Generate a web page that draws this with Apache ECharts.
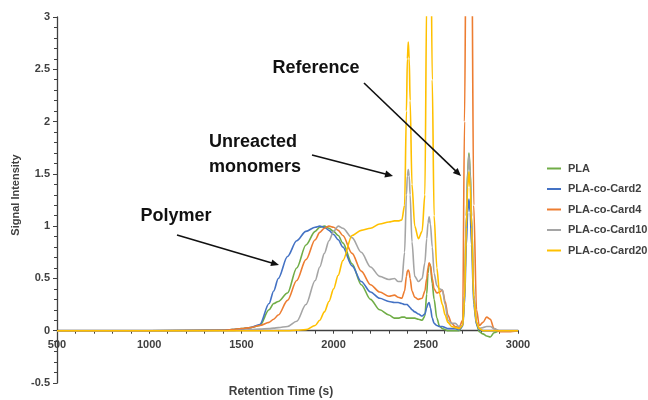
<!DOCTYPE html>
<html>
<head>
<meta charset="utf-8">
<script src="https://cdn.jsdelivr.net/npm/echarts@6/dist/echarts.min.js"></script>
<style>html,body{margin:0;padding:0;background:#fff}#c{width:648px;height:400px}</style>
</head>
<body>
<div id="c"></div>
<script>
// Retention time (s)
const retentionTime = [500,1000,1400,1450,1500,1550,1600,1650,1675,1700,1750,1800,1850,1900,1925,1950,1975,2000,2025,2050,2100,2150,2200,2250,2300,2330,2350,2370,2385,2395,2400,2405,2410,2415,2425,2440,2460,2480,2495,2505,2512,2518,2525,2535,2545,2560,2575,2590,2605,2620,2640,2660,2680,2700,2710,2720,2727,2734,2741,2748,2760,2775,2790,2810,2830,2850,2870,2900,2950,3000];

const seriesNames = ['PLA','PLA-co-Card2','PLA-co-Card4','PLA-co-Card10','PLA-co-Card20'];

const pla = [0,0,0.005,0.01,0.02,0.03,0.05,0.2,0.26,0.28,0.36,0.6,0.82,0.95,0.99,1.0,0.98,0.95,0.91,0.84,0.64,0.44,0.3,0.2,0.15,0.12,0.12,0.13,0.13,0.12,0.12,0.12,0.12,0.12,0.12,0.12,0.11,0.1,0.14,0.35,0.55,0.64,0.63,0.45,0.3,0.12,0.04,0.02,0.01,0,0,0,0,0.05,0.34,1.1,1.53,1.7,1.53,1.1,0.34,0.06,-0.01,-0.03,-0.05,-0.06,-0.02,0,0,0];

const card2 = [0,0,0.005,0.01,0.015,0.03,0.06,0.26,0.38,0.5,0.71,0.86,0.95,0.99,1.0,0.99,0.96,0.92,0.87,0.8,0.62,0.47,0.37,0.31,0.28,0.27,0.27,0.26,0.25,0.25,0.25,0.24,0.23,0.22,0.2,0.18,0.16,0.14,0.16,0.22,0.26,0.27,0.22,0.12,0.07,0.05,0.04,0.04,0.03,0.02,0.02,0.02,0.01,0.04,0.25,0.82,1.13,1.26,1.13,0.82,0.25,0.06,0.01,0,0,0,0,0,0,0];

const card4 = [0,0,0.005,0.01,0.02,0.03,0.05,0.08,0.11,0.15,0.29,0.48,0.68,0.87,0.94,0.98,1.0,0.99,0.96,0.91,0.74,0.57,0.44,0.37,0.33,0.34,0.32,0.31,0.38,0.52,0.57,0.58,0.56,0.5,0.38,0.32,0.3,0.31,0.38,0.5,0.6,0.65,0.62,0.5,0.4,0.36,0.37,0.39,0.28,0.15,0.07,0.04,0.03,0.1,2.0,4.2,6.0,6.5,6.0,4.0,1.2,0.2,0.05,0.08,0.13,0.11,0.02,-0.01,-0.01,0];

const card10 = [0,0,0,0,0.005,0.01,0.015,0.02,0.025,0.03,0.04,0.09,0.25,0.48,0.61,0.74,0.86,0.95,1.0,0.98,0.89,0.75,0.61,0.52,0.49,0.5,0.47,0.47,0.75,1.3,1.48,1.54,1.48,1.3,0.85,0.52,0.47,0.5,0.65,0.88,1.03,1.09,1.02,0.8,0.55,0.43,0.4,0.39,0.25,0.1,0.07,0.07,0.04,0.05,0.34,1.09,1.51,1.68,1.51,1.09,0.34,0.08,0.02,0.03,0.04,0.04,0.02,0,0,0];

const card20 = [0,0,0,0,0,0,0,0,0,0,0,0.005,0.01,0.05,0.1,0.18,0.28,0.4,0.53,0.67,0.91,0.96,0.98,1.02,1.04,1.05,1.05,1.06,1.2,2.1,2.6,2.76,2.6,2.2,1.4,1.0,0.88,0.95,1.3,3.2,4.6,5.0,4.4,2.4,1.1,0.6,0.35,0.25,0.15,0.08,0.04,0.03,0.02,0.05,0.3,0.99,1.37,1.52,1.37,0.99,0.3,0.08,0.02,0,0,0,0,0,0,0];

const colors = ['#70AD47','#4472C4','#ED7D31','#A5A5A5','#FFC000'];
const allValues = [pla, card2, card4, card10, card20];

const FONT = '"Liberation Sans", Arial, sans-serif';
const TXT = '#404040';

// Layout constants
const GRID = { left: 57, right: 130, top: 17, bottom: 17 };
const Y_MIN = -0.5, Y_MAX = 3;
const plotH = 400 - GRID.top - GRID.bottom;
const zeroOffset = -plotH * (0 - Y_MIN) / (Y_MAX - Y_MIN); // move x axis up to y = 0

function arrow(x1, y1, x2, y2) {
  const L = 8, W = 3.5;
  const dx = x2 - x1, dy = y2 - y1, len = Math.hypot(dx, dy);
  const ux = dx / len, uy = dy / len, nx = -uy, ny = ux;
  const bx = x2 - L * ux, by = y2 - L * uy;
  return [
    { type: 'line', shape: { x1: x1, y1: y1, x2: x2 - L * 0.6 * ux, y2: y2 - L * 0.6 * uy }, style: { stroke: '#111', lineWidth: 1.6 }, z: 100 },
    { type: 'polygon', shape: { points: [[x2, y2], [bx + W * nx, by + W * ny], [bx - W * nx, by - W * ny]] }, style: { fill: '#111' }, z: 100 }
  ];
}

function label(text, x, y) {
  return { type: 'text', x: x, y: y, z: 100, style: { text: text, font: 'bold 18px ' + FONT, fill: '#111', align: 'center', verticalAlign: 'middle' } };
}

const chart = echarts.init(document.getElementById('c'), null, { renderer: 'canvas' });
chart.setOption({
  animation: false,
  color: colors,
  grid: { left: GRID.left, right: GRID.right, top: GRID.top, bottom: GRID.bottom, containLabel: false },
  legend: {
    orient: 'vertical', left: 542, top: 158,
    icon: 'rect', itemWidth: 14, itemHeight: 2, itemGap: 9.5,
    textStyle: { fontFamily: FONT, fontWeight: 'bold', fontSize: 11, color: TXT, padding: [0, 0, 0, 2] },
    data: seriesNames
  },
  xAxis: {
    type: 'value', min: 500, max: 3000, interval: 500,
    offset: zeroOffset,
    axisLine: { onZero: false, lineStyle: { color: '#404040', width: 1.3 } },
    axisTick: { show: true, length: 3, lineStyle: { color: '#404040' } },
    minorTick: { show: true, splitNumber: 5, length: 3, lineStyle: { color: '#404040' } },
    splitLine: { show: false },
    axisLabel: { fontFamily: FONT, fontWeight: 'bold', fontSize: 11, color: TXT, margin: 9, formatter: function (v) { return String(v); } }
  },
  yAxis: {
    type: 'value', min: Y_MIN, max: Y_MAX, interval: 0.5,
    axisLine: { show: true, lineStyle: { color: '#404040', width: 1.3 } },
    axisTick: { show: true, length: 4, lineStyle: { color: '#404040' } },
    minorTick: { show: true, splitNumber: 5, length: 3, lineStyle: { color: '#404040' } },
    splitLine: { show: false },
    axisLabel: { fontFamily: FONT, fontWeight: 'bold', fontSize: 11, color: TXT, margin: 7, formatter: function (v) { return String(v); } }
  },
  series: seriesNames.map(function (name, i) {
    return {
      name: name, type: 'line', symbol: 'none', smooth: 0.3, smoothMonotone: 'x',
      lineStyle: { width: 1.6, color: colors[i] },
      itemStyle: { color: colors[i] },
      data: retentionTime.map(function (t, j) { return [t, allValues[i][j]]; })
    };
  }),
  graphic: [
    { type: 'text', x: 16, y: 195, rotation: Math.PI / 2, style: { text: 'Signal Intensity', font: 'bold 11px ' + FONT, fill: TXT, align: 'center', verticalAlign: 'middle' } },
    { type: 'text', x: 281, y: 392, style: { text: 'Retention Time (s)', font: 'bold 12px ' + FONT, fill: TXT, align: 'center', verticalAlign: 'middle' } },
    label('Polymer', 176, 216),
    label('Unreacted', 253, 142),
    label('monomers', 255, 167),
    label('Reference', 316, 68)
  ].concat(arrow(177, 235, 279, 265), arrow(312, 155, 393, 176), arrow(364, 83, 461, 176))
});
</script>
</body>
</html>
